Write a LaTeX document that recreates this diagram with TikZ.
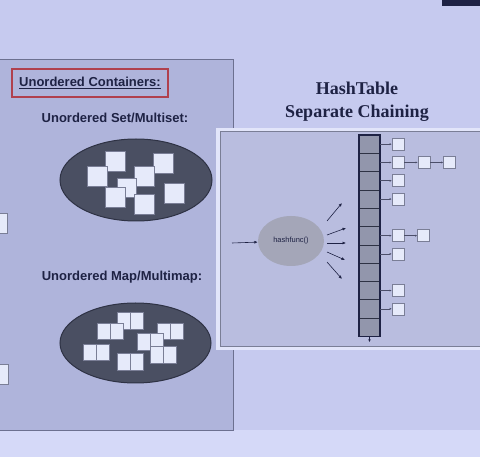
\documentclass[tikz,border=0pt]{standalone}
\usepackage{fontspec}
\setmainfont{Liberation Sans}
\newfontfamily\titlefont{Liberation Serif}
\usetikzlibrary{arrows.meta,shapes.geometric}
\definecolor{pagebg}{HTML}{C6CAEF}
\definecolor{lowbg}{HTML}{D5D9F8}
\definecolor{leftpanel}{HTML}{AFB4DB}
\definecolor{leftborder}{HTML}{6C7090}
\definecolor{rightpanel}{HTML}{B9BDDF}
\definecolor{rightframe}{HTML}{E2E5FA}
\definecolor{navy}{HTML}{1E2244}
\definecolor{ellfill}{HTML}{4A4F62}
\definecolor{ellborder}{HTML}{2E3244}
\definecolor{sqfill}{HTML}{E6EAFA}
\definecolor{sqborder}{HTML}{7A7E96}
\definecolor{cellfill}{HTML}{9296AC}
\definecolor{hashfill}{HTML}{A4A6B8}
\definecolor{redbox}{HTML}{B0404E}
\tikzset{
  setsq/.style={draw=sqborder, fill=sqfill, line width=0.5pt, minimum size=20pt, inner sep=0pt},
  mapsq/.style={draw=sqborder, fill=sqfill, line width=0.5pt, minimum width=13pt, minimum height=16.5pt, inner sep=0pt},
  chsq/.style={draw=sqborder, fill=sqfill, line width=0.6pt, minimum size=12pt, inner sep=0pt},
  cell/.style={draw=ellborder, fill=cellfill, line width=0.5pt, minimum width=21pt, minimum height=18.3pt, inner sep=0pt},
  chain/.style={draw=navy!80, line width=0.5pt, -{Latex[length=2pt,width=2pt]}},
  harr/.style={draw=navy, line width=0.6pt, -{Latex[length=3.5pt,width=3pt]}},
  heading/.style={font=\fontsize{13}{15}\selectfont\bfseries, text=navy},
  title/.style={font=\titlefont\fontsize{18}{23}\selectfont\bfseries, text=navy, align=center}
}
\begin{document}
\begin{tikzpicture}[x=1pt,y=-1pt]
\useasboundingbox (0,0) rectangle (480,457);
\fill[pagebg] (0,0) rectangle (480,457);
\fill[lowbg] (0,430) rectangle (480,457);
\fill[navy] (442,0) rectangle (480,6);
% left panel
\filldraw[fill=leftpanel, draw=leftborder, line width=0.8pt] (-2,59) rectangle (233,430);
% partially visible squares at the left edge
\node[setsq, anchor=east] (e1) at (7,223) {};
\node[setsq, anchor=east] (e2) at (8,374) {};
% heading in red box
\node[heading, draw=redbox, line width=1.2pt, minimum width=156pt, minimum height=28pt] (hd) at (90,83) {\underline{Unordered Containers:}};
\node[heading] (setlbl) at (115,118) {Unordered Set/Multiset:};
\node[heading] (maplbl) at (122,277) {Unordered Map/Multimap:};
% set ellipse
\filldraw[fill=ellfill, draw=ellborder, line width=1pt] (136,180) ellipse [x radius=76, y radius=41];
\node[setsq] (s1) at (115.5,161.5) {};
\node[setsq] (s2) at (97,176) {};
\node[setsq] (s3) at (163,163.5) {};
\node[setsq] (s4) at (144.5,176) {};
\node[setsq, minimum size=19pt] (s5) at (126.5,187.5) {};
\node[setsq] (s6) at (115.5,197.5) {};
\node[setsq] (s7) at (144.5,204.5) {};
\node[setsq] (s8) at (174.5,193) {};
% map ellipse
\filldraw[fill=ellfill, draw=ellborder, line width=1pt] (135.5,343) ellipse [x radius=75.5, y radius=40];
\foreach \n/\x/\y in {m1/117/321, m2/97/331.5, m3/157/331.5, m4/137/342, m5/83/352.5, m6/150/355, m7/117/362}{
  \node[mapsq, anchor=west] (\n-a) at (\x,\y) {};
  \node[mapsq, anchor=west] (\n-b) at (\x+13,\y) {};
}
% title
\node[title] (ttl) at (357,102) {HashTable\\Separate Chaining};
% right panel
\filldraw[fill=rightframe, draw=rightframe] (216,128) rectangle (482,349);
\filldraw[fill=rightpanel, draw=sqborder, line width=0.5pt] (220,131) rectangle (484,346);
% hash function
\node[ellipse, fill=hashfill, minimum width=66pt, minimum height=50pt, inner sep=0pt, font=\fontsize{7.5}{9}\selectfont, text=navy] (h) at (291,241) {hashfunc()};
\coordinate (in) at (232,243);
\draw[harr] (in) -- (h);
\foreach \i/\ax/\ay/\bx/\by in {1/327/221/342/203, 2/327/235/346/228, 3/327/243/346/243, 4/327/252/345/260, 5/327/262/342/279}{
  \coordinate (f\i) at (\ax,\ay);
  \coordinate (t\i) at (\bx,\by);
  \draw[harr] (f\i) -- (t\i);
}
% table column
\foreach \k in {0,...,10}{
  \node[cell] (c\k) at (369.5,{135+18.3*(\k+0.5)}) {};
}
\draw[navy, line width=1.6pt] (c0.north west) rectangle (c10.south east);
\coordinate (dn) at (369.5,342);
\draw[navy, line width=0.5pt, -{Latex[length=2.5pt,width=2.5pt]}] (c10.south) -- (dn);
% chains
\foreach \k in {0,1,2,3,5,6,8,9}{
  \node[chsq] (n\k-a) at (398,{135+18.3*(\k+0.5)}) {};
  \draw[chain] (c\k.east) -- (n\k-a);
}
\node[chsq] (n1-b) at (424,{135+18.3*1.5}) {};
\node[chsq] (n1-c) at (449.5,{135+18.3*1.5}) {};
\draw[chain] (n1-a) -- (n1-b);
\draw[chain] (n1-b) -- (n1-c);
\node[chsq] (n5-b) at (423.5,{135+18.3*5.5}) {};
\draw[chain] (n5-a) -- (n5-b);
\end{tikzpicture}
\end{document}
